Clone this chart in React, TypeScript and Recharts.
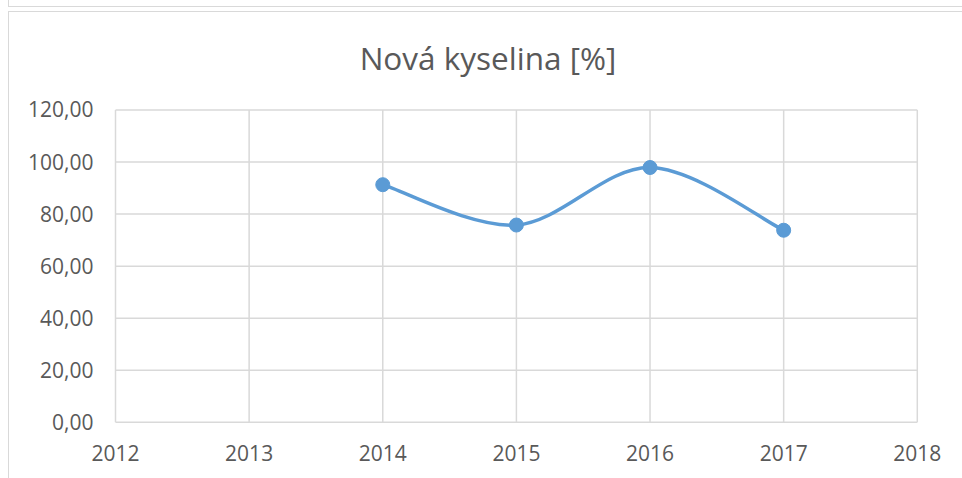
import React from "react";
import { CartesianGrid, Line, LineChart, XAxis, YAxis } from "recharts";

const years = [2014, 2015, 2016, 2017];
const acidShare = [91.3, 75.8, 97.9, 73.8];
const xTicks = [2012, 2013, 2014, 2015, 2016, 2017, 2018];
const yTicks = [0, 20, 40, 60, 80, 100, 120];

const data = years.map((year, i) => ({ year, value: acidShare[i] }));

const TEXT = "#595959";
const GRID = "#d9d9d9";
const BLUE = "#5b9bd5";
const FONT = "'Open Sans', sans-serif";

// Excel-like smoothed line (Catmull-Rom to Bezier)
function excelSmooth(context: any) {
  let xs: number[] = [];
  let ys: number[] = [];
  return {
    areaStart() {},
    areaEnd() {},
    lineStart() {
      xs = [];
      ys = [];
    },
    point(x: number, y: number) {
      xs.push(+x);
      ys.push(+y);
    },
    lineEnd() {
      const n = xs.length;
      if (!n) return;
      context.moveTo(xs[0], ys[0]);
      for (let i = 0; i < n - 1; i++) {
        const p = Math.max(i - 1, 0);
        const q = Math.min(i + 2, n - 1);
        const c1x = xs[i] + (xs[i + 1] - xs[p]) / 6;
        const c1y = ys[i] + (ys[i + 1] - ys[p]) / 6;
        const c2x = xs[i + 1] - (xs[q] - xs[i]) / 6;
        const c2y = ys[i + 1] - (ys[q] - ys[i]) / 6;
        context.bezierCurveTo(c1x, c1y, c2x, c2y, xs[i + 1], ys[i + 1]);
      }
    },
  };
}

const fmt = (v: number) => v.toFixed(2).replace(".", ",");

export default function App() {
  return (
    <div style={{ position: "absolute", left: 0, top: 0, width: 962, height: 478, background: "#fff", overflow: "hidden", fontFamily: FONT }}>
      <div style={{ position: "absolute", left: 8, top: 0, width: 1, height: 7, background: GRID }} />
      <div style={{ position: "absolute", left: 8, top: 6, width: 960, height: 1, background: GRID }} />
      <div style={{ position: "absolute", left: 8, top: 11, width: 960, height: 1, background: GRID }} />
      <div style={{ position: "absolute", left: 8, top: 11, width: 1, height: 470, background: GRID }} />
      <div style={{ position: "absolute", left: 0, top: 36, width: 976, textAlign: "center", fontSize: 31.5, color: TEXT }}>
        Nová kyselina [%]
      </div>
      <LineChart
        width={962}
        height={478}
        data={data}
        margin={{ top: 110, right: 44.7, bottom: 0, left: 0 }}
        style={{ position: "absolute", left: 0, top: 0 }}
      >
        <CartesianGrid stroke={GRID} strokeWidth={1.5} />
        <XAxis
          dataKey="year"
          type="number"
          domain={[2012, 2018]}
          ticks={xTicks}
          axisLine={false}
          tickLine={false}
          tickSize={0}
          tickMargin={24}
          tick={{ fill: TEXT, fontSize: 21, fontFamily: FONT }}
          height={55.7}
        />
        <YAxis
          type="number"
          domain={[0, 120]}
          ticks={yTicks}
          tickFormatter={fmt}
          axisLine={false}
          tickLine={false}
          tickSize={0}
          tickMargin={22}
          width={115.5}
          tick={{ fill: TEXT, fontSize: 21, fontFamily: FONT }}
        />
        <Line
          dataKey="value"
          type={excelSmooth as any}
          stroke={BLUE}
          strokeWidth={3.5}
          dot={{ r: 7, fill: BLUE, stroke: BLUE, strokeWidth: 1 }}
          activeDot={false}
          isAnimationActive={false}
        />
      </LineChart>
    </div>
  );
}
